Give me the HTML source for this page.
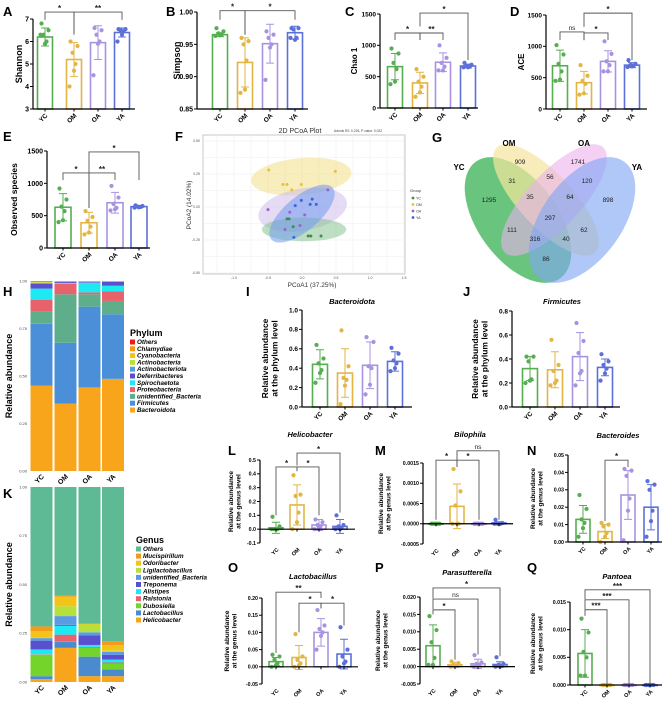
<!DOCTYPE html>
<html><head><meta charset="utf-8">
<style>
html,body{margin:0;padding:0;background:#fff;}
svg{display:block;font-family:"Liberation Sans",Arial,sans-serif;}
</style></head>
<body>
<svg id="fig" width="669" height="703" viewBox="0 0 669 703" xmlns="http://www.w3.org/2000/svg"></svg>
<script>
// ===== DATA =====
const groups = ["YC","OM","OA","YA"];
// A Shannon
const A_means=[6.2,5.2,5.95,6.4]; const A_sd=[0.4,0.75,0.75,0.2];
const A_pts=[[6.8,6.5,6.3,6.0,5.9,6.3],[6.0,5.8,5.5,5.0,4.7,4.0],[6.6,6.5,6.3,6.0,5.9,4.5],[6.55,6.55,6.5,6.45,6.3,6.0]];
const A_sig=[[0,1,7.31,6.96,6.3,"*"],[1,3,7.31,6.4,6.96,"**"]];
// B Simpson
const B_means=[0.965,0.922,0.951,0.968]; const B_sd=[0.003,0.038,0.03,0.01];
const B_pts=[[0.975,0.97,0.967,0.965,0.964,0.963],[0.96,0.955,0.95,0.925,0.88,0.875],[0.97,0.965,0.96,0.95,0.945,0.895],[0.975,0.975,0.973,0.96,0.957,0.96]];
const B_sig=[[0,1,1.002,0.988,0.965,"*"],[1,3,1.002,0.965,0.988,"*"]];
// C Chao1
const C_means=[660,400,730,670]; const C_sd=[210,170,150,30];
const C_pts=[[950,870,720,620,420,380],[620,500,420,340,250,180],[1000,800,720,660,600,600],[720,690,670,660,650,650]];
const C_sig=[[0,1,1197,1085,1085,"*"],[1,2,1197,1085,1085,"**"],[1,3,1515,1300,766,"*"]];
// D ACE
const D_means=[690,420,760,700]; const D_sd=[250,180,170,40];
const D_pts=[[1020,870,720,600,470,450],[700,530,450,400,250,230],[1080,880,760,700,600,600],[780,720,700,690,680,670]];
const D_sig=[[0,1,1229,1100,1100,"ns"],[1,2,1213,1100,1100,"*"],[1,3,1530,1310,780,"*"]];
// E Observed species
const E_means=[630,390,700,640]; const E_sd=[210,160,160,20];
const E_pts=[[920,750,640,570,430,400],[570,480,420,330,240,210],[960,780,680,620,600,580],[660,650,640,635,630,625]];
const E_sig=[[0,1,1160,1050,620,"*"],[1,2,1160,620,1050,"**"],[1,3,1485,620,1050,"*"]];
// I Bacteroidota
const I_means=[0.44,0.35,0.43,0.47]; const I_sd=[0.15,0.25,0.24,0.1];
const I_pts=[[0.64,0.5,0.45,0.38,0.35,0.25],[0.79,0.42,0.3,0.28,0.22,0.03],[0.72,0.67,0.42,0.4,0.23,0.13],[0.61,0.55,0.48,0.45,0.4,0.37]];
const I_sig=[];
// J Firmicutes
const J_means=[0.32,0.31,0.42,0.33]; const J_sd=[0.1,0.15,0.2,0.07];
const J_pts=[[0.42,0.42,0.38,0.23,0.22,0.2],[0.56,0.35,0.3,0.22,0.2,0.18],[0.7,0.55,0.45,0.3,0.28,0.18],[0.44,0.38,0.35,0.32,0.28,0.22]];
const J_sig=[];
// L Helicobacter
const L_means=[0.01,0.175,0.03,0.02]; const L_sd=[0.04,0.145,0.04,0.05];
const L_pts=[[0.09,0.02,0,0,0,0],[0.39,0.25,0.24,0.12,0.05,0],[0.07,0.05,0.03,0.02,0.01,0],[0.1,0.03,0.02,0.01,0,0]];
const L_sig=[[0,1,0.45,0.1,0.42,"*"],[1,2,0.45,0.42,0.1,"*"],[1,3,0.55,0.46,0.12,"*"]];
// M Bilophila
const M_means=[0,0.00043,0,0.00002]; const M_sd=[0,0.00055,0,0.00003];
const M_pts=[[0,0,0,0,0,0],[0.00135,0.0008,0.00045,0,0,0],[0,0,0,0,0,0],[0.0001,0.00002,0,0,0,0]];
const M_sig=[[0,1,0.00157,0.0001,0.0014,"*"],[1,2,0.00157,0.0014,0.0001,"*"],[1,3,0.0018,0.00158,0.0001,"ns"]];
// N Bacteroides
const N_means=[0.013,0.006,0.027,0.02]; const N_sd=[0.008,0.004,0.014,0.013];
const N_pts=[[0.027,0.019,0.013,0.011,0.008,0.003],[0.011,0.01,0.009,0.005,0.003,0],[0.042,0.041,0.038,0.025,0.018,0.001],[0.035,0.033,0.03,0.018,0.012,0.003]];
const N_sig=[[1,2,0.047,0.012,0.043,"*"]];
// O Lactobacillus
const O_means=[0.015,0.027,0.1,0.037]; const O_sd=[0.012,0.035,0.04,0.043];
const O_pts=[[0.035,0.03,0.02,0.01,0.005,0],[0.095,0.03,0.02,0.01,0.005,0],[0.165,0.12,0.11,0.1,0.09,0.05],[0.115,0.05,0.03,0.015,0.01,0]];
const O_sig=[[0,2,0.217,0.04,0.2,"**"],[1,2,0.185,0.1,0.17,"*"],[2,3,0.185,0.17,0.12,"*"]];
// P Parasutterella
const P_means=[0.006,0.0005,0.0008,0.0006]; const P_sd=[0.006,0.0008,0.0013,0.0008];
const P_pts=[[0.0145,0.0105,0.007,0.0025,0.0005,0.0005],[0.0015,0.001,0.0005,0.0003,0.0002,0],[0.0033,0.0012,0.0008,0.0005,0.0003,0],[0.0027,0.0008,0.0005,0.0002,0,0]];
const P_sig=[[0,1,0.0163,0.015,0.002,"*"],[0,2,0.0194,0.0165,0.0035,"ns"],[0,3,0.0226,0.0196,0.003,"*"]];
// Q Pantoea
const Q_means=[0.0057,0,0,0]; const Q_sd=[0.0043,0,0,0];
const Q_pts=[[0.012,0.0095,0.006,0.005,0.0017,0.0017],[0,0,0,0,0,0],[0,0,0,0,0,0],[0,0,0,0,0,0]];
const Q_sig=[[0,1,0.0136,0.0125,0.0002,"***"],[0,2,0.0154,0.0137,0.0002,"***"],[0,3,0.0172,0.0155,0.0002,"***"]];

// PCoA
const pcoaGroups=["YC","OM","OA","YA"];
const pcoa_YC=[[-0.22,-0.09],[-0.19,-0.09],[-0.13,-0.15],[0.09,-0.22],[0.13,-0.22],[0.28,-0.22]];
const pcoa_OM=[[-0.49,0.28],[0.49,0.27],[-0.28,0.17],[-0.22,0.17],[-0.15,0.13],[-0.01,0.17]];
const pcoa_OA=[[-0.5,-0.02],[0.38,0.13],[-0.18,-0.04],[0.04,-0.06],[-0.03,-0.14],[-0.25,-0.17]];
const pcoa_YA=[[-0.1,0.01],[-0.01,0.05],[0.15,0.06],[0.12,0.02],[0.21,0.02],[-0.12,-0.23]];
// ellipse: cx, cy, rx, ry, angle(deg)
const ell_YC=[0.03,-0.17,0.62,0.09,0];
const ell_OM=[-0.01,0.23,0.74,0.14,-5];
const ell_OA=[0.01,-0.02,0.66,0.16,-10];
const ell_YA=[0,-0.05,0.59,0.13,-40];
const pcoaXTicks=[-1.0,-0.5,0.0,0.5,1.0,1.5];
const pcoaYTicks=[-0.50,-0.25,0.00,0.25,0.50];

// Venn counts
const vennLabels=["909","1741","31","56","120","1295","35","64","898","297","111","62","316","40","86"];

// Phylum stacks (bottom-up)
const phyla=["Bacteroidota","Firmicutes","unidentified_Bacteria","Proteobacteria","Spirochaetota","Deferribacteres","Actinobacteriota","Actinobacteria","Cyanobacteria","Chlamydiae","Others"];
const phy_YC=[0.45,0.325,0.065,0.06,0.06,0.025,0.005,0.003,0.003,0.002,0.002];
const phy_OM=[0.355,0.32,0.255,0.055,0.005,0.005,0.002,0.001,0.001,0.0005,0.0005];
const phy_OA=[0.44,0.425,0.065,0.01,0.05,0.003,0.002,0.002,0.001,0.001,0.001];
const phy_YA=[0.485,0.34,0.07,0.05,0.03,0.02,0.002,0.001,0.001,0.0005,0.0005];
// Genus stacks (bottom-up)
const genera=["Helicobacter","Lactobacillus","Dubosiella","Ralstonia","Alistipes","Treponema","unidentified_Bacteria","Ligilactobacillus","Odoribacter","Mucispirillum","Others"];
const gen_YC=[0.015,0.015,0.11,0.002,0.025,0.045,0.013,0.005,0.03,0.025,0.715];
const gen_OM=[0.175,0.03,0.003,0.035,0.045,0.005,0.045,0.05,0.05,0.005,0.557];
const gen_OA=[0.03,0.1,0.045,0.005,0.01,0.05,0.015,0.04,0.003,0.002,0.70];
const gen_YA=[0.03,0.035,0.03,0.005,0.015,0.025,0.015,0.005,0.03,0.02,0.79];

// ===== DRAW =====
const NS="http://www.w3.org/2000/svg";
const svg=document.getElementById("fig");
function mk(tag,attrs,parent){const e=document.createElementNS(NS,tag);for(const k in attrs)e.setAttribute(k,attrs[k]);(parent||svg).appendChild(e);return e;}
function txt(s,attrs,parent){const e=mk("text",attrs,parent);e.textContent=s;return e;}
const gcol=["#55AE50","#E3B545","#A893E2","#5C70D8"];

function letter(s,x,y){const t=txt(s,{x:x,y:y,"font-size":13,"font-weight":"bold",fill:"#000"});

}

function barPanel(id,g,means,sd,pts,sig){
  const grp=mk("g",{});
  
  
  const y=v=>g.bot-(v-g.vmin)/(g.vmax-g.vmin)*(g.bot-g.top);
  const base=g.vmin<0?0:g.vmin;
  const fs=g.fs||6.5;
  const ya=mk("line",{x1:g.ax,y1:g.top,x2:g.ax,y2:g.bot,stroke:"#000","stroke-width":1.2},grp);
  
  
  g.ticks.forEach(t=>{
    mk("line",{x1:g.ax-3,y1:y(t),x2:g.ax,y2:y(t),stroke:"#000","stroke-width":1},grp);
    const tl=txt(t.toFixed(g.dec),{x:g.ax-4,y:y(t)+fs*0.35,"font-size":fs,"font-weight":"bold","text-anchor":"end"},grp);
    
    
  });
  const lines=g.ylab; const ymid=(g.top+g.bot)/2;
  lines.forEach((l,i)=>{
    const lx=g.ylx+i*(g.lfs+1);
    const yl=txt(l,{x:lx,y:ymid,"font-size":g.lfs,"font-weight":"bold","text-anchor":"middle",transform:`rotate(-90 ${lx} ${ymid})`},grp);
    
    
  });
  if(g.title){const tt=txt(g.title,{x:g.tx,y:g.ty,"font-size":7.5,"font-weight":"bold","font-style":"italic","text-anchor":"middle"},grp);
    
    }
  const jit=[-3.5,3.5,-1.5,1.5,0,-4.5];
  means.forEach((m,i)=>{
    const cx=g.cx[i],c=gcol[i];
    const yb=y(base), ym=y(m);
    const r=mk("rect",{x:cx-g.bw/2,y:Math.min(yb,ym),width:g.bw,height:Math.max(Math.abs(yb-ym),0.5),fill:"#fff",stroke:c,"stroke-width":1.6},grp);
    
    
    const e1=y(m+sd[i]),e2=y(Math.max(m-sd[i],g.vmin));
    const eb=mk("path",{d:`M${cx},${e1}V${e2}M${cx-4},${e1}H${cx+4}M${cx-4},${y(m-sd[i])}H${cx+4}`,stroke:c,"stroke-width":1,fill:"none"},grp);
    
    
    pts[i].forEach((p,k)=>{
      const d=mk("circle",{cx:cx+jit[k%6],cy:y(p),r:2.1,fill:c},grp);
      
      
    });
    const cl=txt(groups[i],{x:cx+3,y:g.bot+7,"font-size":g.cfs||6.5,"font-weight":"bold","text-anchor":"end",transform:`rotate(-45 ${cx+3} ${g.bot+7})`},grp);
    
    
  });
  const xa=mk("line",{x1:g.ax,y1:y(base),x2:g.xEnd,y2:y(base),stroke:"#000","stroke-width":1.2},grp);
  
  
  means.forEach((m,i)=>mk("line",{x1:g.cx[i],y1:y(base),x2:g.cx[i],y2:y(base)+2.5,stroke:"#000","stroke-width":1},grp));
  sig.forEach(s=>{
    const x1=g.cx[s[0]],x2=g.cx[s[1]],yl=y(s[2]);
    const p=mk("path",{d:`M${x1},${y(s[3])}V${yl}H${x2}V${y(s[4])}`,stroke:"#555","stroke-width":0.9,fill:"none"},grp);
    
    
    const st=txt(s[5],{x:(x1+x2)/2,y:s[5]=="ns"?yl-2:yl-1,"font-size":s[5]=="ns"?6.5:8,"font-weight":s[5]=="ns"?"normal":"bold","text-anchor":"middle",fill:"#222"},grp);
    
    
  });
}

letter("A",3,16); letter("B",166,16); letter("C",345,16); letter("D",510,16);
letter("E",3,141); letter("F",175,141); letter("G",432,142);
letter("H",3,296); letter("I",246,296); letter("J",463,296);
letter("K",3,498); letter("L",228,455); letter("M",375,455); letter("N",527,455);
letter("O",228,572); letter("P",375,572); letter("Q",527,572);

barPanel("A",{ax:33,top:19,bot:109,vmin:3,vmax:7,ticks:[3,4,5,6,7],dec:0,cx:[45,74,98,122],bw:15,xEnd:135,ylab:["Shannon"],ylx:22,lfs:9,fs:7},A_means,A_sd,A_pts,A_sig);
barPanel("B",{ax:197,top:12,bot:109,vmin:0.85,vmax:1.0,ticks:[0.85,0.90,0.95,1.00],dec:2,cx:[220,245,270,295],bw:15,xEnd:308,ylab:["Simpson"],ylx:180,lfs:9,fs:7},B_means,B_sd,B_pts,B_sig);
barPanel("C",{ax:380,top:14,bot:108,vmin:0,vmax:1500,ticks:[0,500,1000,1500],dec:0,cx:[395,420,443,468],bw:15,xEnd:478,ylab:["Chao 1"],ylx:357,lfs:8,fs:6.5},C_means,C_sd,C_pts,C_sig);
barPanel("D",{ax:546,top:15,bot:109,vmin:0,vmax:1500,ticks:[0,500,1000,1500],dec:0,cx:[560,584,608,632],bw:15,xEnd:647,ylab:["ACE"],ylx:524,lfs:8,fs:6.5},D_means,D_sd,D_pts,D_sig);
barPanel("E",{ax:47,top:151,bot:248,vmin:0,vmax:1500,ticks:[0,500,1000,1500],dec:0,cx:[63,89,115,139],bw:16,xEnd:150,ylab:["Observed species"],ylx:17,lfs:8.5,fs:7},E_means,E_sd,E_pts,E_sig);
barPanel("I",{ax:302,top:310,bot:407,vmin:0,vmax:1.0,ticks:[0,0.2,0.4,0.6,0.8,1.0],dec:1,cx:[320,345,370,395],bw:15,xEnd:412,ylab:["Relative abundance","at the phylum level"],ylx:268,lfs:8.5,fs:6.5,title:"Bacteroidota",tx:352,ty:304},I_means,I_sd,I_pts,I_sig);
barPanel("J",{ax:512,top:311,bot:407,vmin:0,vmax:0.8,ticks:[0,0.2,0.4,0.6,0.8],dec:1,cx:[530,555,580,605],bw:15,xEnd:620,ylab:["Relative abundance","at the phylum level"],ylx:478,lfs:8.5,fs:6.5,title:"Firmicutes",tx:562,ty:304},J_means,J_sd,J_pts,J_sig);
barPanel("L",{ax:260,top:460,bot:543,vmin:-0.1,vmax:0.5,ticks:[-0.1,0,0.1,0.2,0.3,0.4,0.5],dec:1,cx:[276,297,319,340],bw:14,xEnd:355,ylab:["Relative abundance","at the genus level"],ylx:233,lfs:6.5,fs:5.3,cfs:5.5,title:"Helicobacter",tx:310,ty:437},L_means,L_sd,L_pts,L_sig);
barPanel("M",{ax:423,top:463,bot:544,vmin:-0.0005,vmax:0.0015,ticks:[-0.0005,0,0.0005,0.001,0.0015],dec:4,cx:[436,457,479,499],bw:14,xEnd:513,ylab:["Relative abundance","at the genus level"],ylx:383,lfs:6.5,fs:5.3,cfs:5.5,title:"Bilophila",tx:470,ty:437},M_means,M_sd,M_pts,M_sig);
barPanel("N",{ax:568,top:455,bot:542,vmin:0,vmax:0.05,ticks:[0,0.01,0.02,0.03,0.04,0.05],dec:2,cx:[583,605,628,651],bw:14,xEnd:662,ylab:["Relative abundance","at the genus level"],ylx:535,lfs:6.5,fs:5.3,cfs:5.5,title:"Bacteroides",tx:618,ty:438},N_means,N_sd,N_pts,N_sig);
barPanel("O",{ax:262,top:598,bot:684,vmin:-0.05,vmax:0.2,ticks:[-0.05,0,0.05,0.1,0.15,0.2],dec:2,cx:[276,299,321,344],bw:14,xEnd:358,ylab:["Relative abundance","at the genus level"],ylx:229,lfs:6.5,fs:5.3,cfs:5.5,title:"Lactobacillus",tx:313,ty:579},O_means,O_sd,O_pts,O_sig);
barPanel("P",{ax:420,top:597,bot:684,vmin:-0.005,vmax:0.02,ticks:[-0.005,0,0.005,0.01,0.015,0.02],dec:3,cx:[433,455,478,500],bw:14,xEnd:515,ylab:["Relative abundance","at the genus level"],ylx:380,lfs:6.5,fs:5.3,cfs:5.5,title:"Parasutterella",tx:467,ty:575},P_means,P_sd,P_pts,P_sig);
barPanel("Q",{ax:570,top:602,bot:685,vmin:0,vmax:0.015,ticks:[0,0.005,0.01,0.015],dec:3,cx:[585,607,629,650],bw:14,xEnd:662,ylab:["Relative abundance","at the genus level"],ylx:535,lfs:6.5,fs:5.3,cfs:5.5,title:"Pantoea",tx:617,ty:579},Q_means,Q_sd,Q_pts,Q_sig);

// ===== PCoA =====
(function(){
  const g=mk("g",{});
  
  
  const px=v=>302+v*68, py=v=>207-v*132;
  const L=203,R=405,T=135,B=274;
  const bg=mk("rect",{x:L,y:T,width:R-L,height:B-T,fill:"#fff",stroke:"#bbb","stroke-width":0.8},g);
  
  
  for(let v=-1.25;v<=1.5;v+=0.25){mk("line",{x1:px(v),y1:T,x2:px(v),y2:B,stroke:"#eee","stroke-width":0.6},g);}
  for(let v=-0.5;v<=0.5;v+=0.125){mk("line",{x1:L,y1:py(v),x2:R,y2:py(v),stroke:"#eee","stroke-width":0.6},g);}
  pcoaXTicks.forEach(t=>{const e=txt(t.toFixed(1),{x:px(t),y:B+5,"font-size":3.5,fill:"#555","text-anchor":"middle"},g);
    });
  pcoaYTicks.forEach(t=>{const e=txt(t.toFixed(2),{x:L-3,y:py(t)+1.2,"font-size":3.5,fill:"#555","text-anchor":"end"},g);
    });
  const ells={YC:ell_YC,OM:ell_OM,OA:ell_OA,YA:ell_YA};
  const pts={YC:pcoa_YC,OM:pcoa_OM,OA:pcoa_OA,YA:pcoa_YA};
  const ecol={YC:"#7DBF88",OM:"#F2DC7A",OA:"#CDB8EC",YA:"#6F9BEE"};
  const pcol={YC:"#3E8E4E",OM:"#E4C23A",OA:"#9A64C8",YA:"#3F63D8"};
  ["OM","OA","YC","YA"].forEach(k=>{const e=ells[k];
    const el=mk("ellipse",{cx:px(e[0]),cy:py(e[1]),rx:e[2]*68,ry:e[3]*132,fill:ecol[k],"fill-opacity":k=="YA"?0.55:0.5,transform:`rotate(${e[4]} ${px(e[0])} ${py(e[1])})`},g);
    
    });
  pcoaGroups.forEach(k=>{pts[k].forEach(p=>{const c=mk("circle",{cx:px(p[0]),cy:py(p[1]),r:1.5,fill:pcol[k]},g);
    });});
  let t=txt("2D PCoA Plot",{x:300,y:133,"font-size":7,fill:"#333","text-anchor":"middle"},g);
  
  t=txt("Adonis R2: 0.226, P value: 0.022",{x:334,y:132,"font-size":3.3,fill:"#444"},g);
  
  t=txt("PCoA1 (37.25%)",{x:312,y:287,"font-size":6.5,fill:"#333","text-anchor":"middle"},g);
  
  t=txt("PCoA2 (14.02%)",{x:191,y:205,"font-size":6.5,fill:"#333","text-anchor":"middle",transform:"rotate(-90 191 205)"},g);
  
  t=txt("Group",{x:410,y:192,"font-size":4,fill:"#333"},g);
  
  pcoaGroups.forEach((k,i)=>{const yy=198+i*6.5;
    const c=mk("circle",{cx:413,cy:yy,r:1.4,fill:pcol[k]},g);
    
    const tt=txt(k,{x:416,y:yy+1.3,"font-size":3.6,fill:"#333"},g);
    });
})();

// ===== Venn =====
(function(){
  const g=mk("g",{});
  
  
  const E=[["YC",518,220,72,40,54,"#2FAE4B",0.72],["OM",546,200,72,27,47,"#F5E59C",0.7],["OA",554,200,72,27,-47,"#EBB0EC",0.6],["YA",582,220,72,40,-54,"#7FA7F4",0.62]];
  E.forEach(e=>{const el=mk("ellipse",{cx:e[1],cy:e[2],rx:e[3],ry:e[4],fill:e[6],"fill-opacity":e[7],transform:`rotate(${e[5]} ${e[1]} ${e[2]})`},g);
    });
  const pos=[[520,164],[578,164],[512,183],[550,179],[587,183],[489,202],[530,199],[570,199],[608,202],[550,220],[512,232],[584,232],[535,241],[566,241],[546,261]];
  vennLabels.forEach((s,i)=>{const t=txt(s,{x:pos[i][0],y:pos[i][1],"font-size":6.5,fill:"#222","text-anchor":"middle"},g);
    });
  [["YC",459,170],["OM",509,146],["OA",584,146],["YA",637,170]].forEach(s=>{
    const t=txt(s[0],{x:s[1],y:s[2],"font-size":8,"font-weight":"bold","text-anchor":"middle"},g);
    });
})();

// ===== Stacked bars =====
const phyCol={"Others":"#F01A1A","Chlamydiae":"#F39A0C","Cyanobacteria":"#F0C419","Actinobacteria":"#B6E03C","Actinobacteriota":"#5B9BE6","Deferribacteres":"#5A4FCF","Spirochaetota":"#1DE9F2","Proteobacteria":"#E8626B","unidentified_Bacteria":"#5EAE8C","Firmicutes":"#4A8FD8","Bacteroidota":"#F8A51C"};
const genCol={"Others":"#5DBA95","Mucispirillum":"#F59A1A","Odoribacter":"#F2C419","Ligilactobacillus":"#B6E03C","unidentified_Bacteria":"#5B9BE6","Treponema":"#5A4FCF","Alistipes":"#1DE9F2","Ralstonia":"#E8626B","Dubosiella":"#74D42A","Lactobacillus":"#4A8BD0","Helicobacter":"#F8A51C"};
function stacked(id,top,bot,names,cols,series,legTitle,lx,ly,lstep){
  const g=mk("g",{});
  
  
  const y=v=>bot-v*(bot-top);
  const cx=[41.5,65.5,89.5,113];
  [0,0.25,0.5,0.75,1.0].forEach(t=>{const e=txt(t.toFixed(2),{x:27,y:y(t)+1.3,"font-size":4,fill:"#444","text-anchor":"end"},g);
    });
  series.forEach((s,i)=>{let acc=0;
    s.forEach((v,k)=>{const r=mk("rect",{x:cx[i]-11,y:y(acc+v),width:22,height:v*(bot-top),fill:cols[names[k]]},g);
      acc+=v;});
    const t=txt(groups[i],{x:cx[i]+3,y:bot+6,"font-size":7,"font-weight":"bold","text-anchor":"end",transform:`rotate(-45 ${cx[i]+3} ${bot+6})`},g);
    });
  const ym=(top+bot)/2;
  let t=txt("Relative abundance",{x:12,y:ym,"font-size":9,"font-weight":"bold","text-anchor":"middle",transform:`rotate(-90 12 ${ym})`},g);
  
  t=txt(legTitle,{x:lx,y:ly,"font-size":9,"font-weight":"bold"},g);
  
  names.slice().reverse().forEach((n,i)=>{const yy=ly+8+i*lstep;
    const r=mk("rect",{x:lx,y:yy-4.5,width:5,height:5,fill:cols[n]},g);
    
    const tt=txt(n,{x:lx+7,y:yy,"font-size":6.3,"font-weight":"bold","font-style":"italic"},g);
    });
}
stacked("h",281,471,phyla,phyCol,[phy_YC,phy_OM,phy_OA,phy_YA],"Phylum",130,336,6.8);
stacked("k",487,682,genera,genCol,[gen_YC,gen_OM,gen_OA,gen_YA],"Genus",136,543,7.1);
</script>
</body></html>
